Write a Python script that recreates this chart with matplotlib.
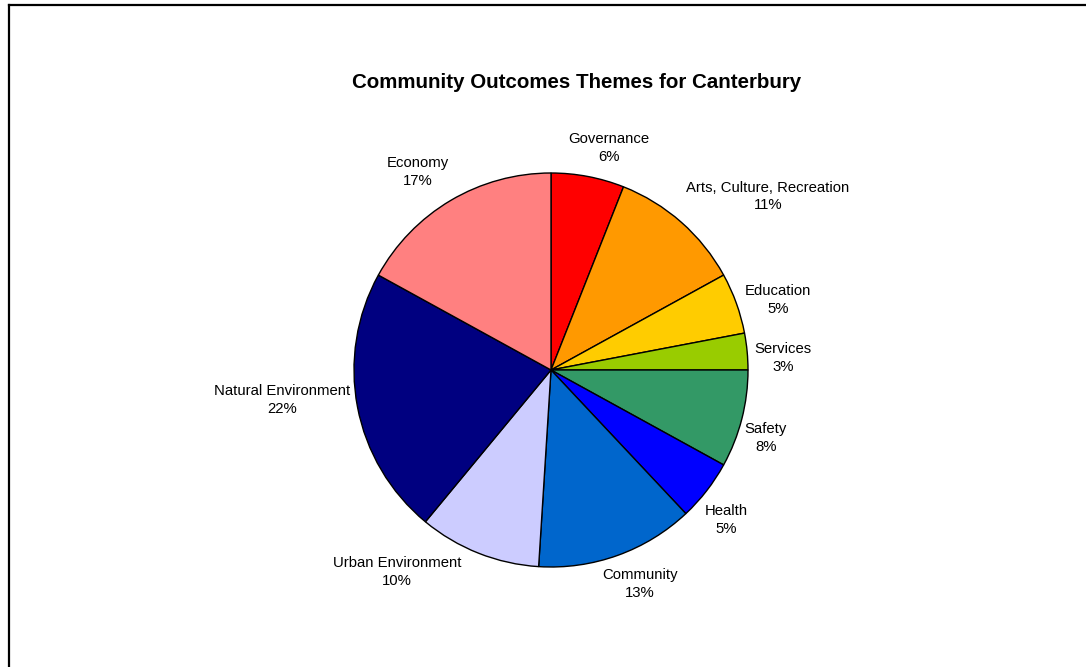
import numpy as np
import matplotlib
matplotlib.use("Agg")
import matplotlib.pyplot as plt
from matplotlib.lines import Line2D

plt.rcParams["font.family"] = ["Liberation Sans", "DejaVu Sans"]

themes = ["Governance", "Arts, Culture, Recreation", "Education", "Services",
          "Safety", "Health", "Community", "Urban Environment",
          "Natural Environment", "Economy"]
shares = [6, 11, 5, 3, 8, 5, 13, 10, 22, 17]
colors = ["#FF0000", "#FF9900", "#FFCC00", "#99CC00", "#339966",
          "#0000FF", "#0066CC", "#CCCCFF", "#000080", "#FF8080"]

W, H = 1086, 667
cx, cy, R = 551, 370, 197      # pie centre and radius in pixels
span = 1.8                     # axes half-width in data units

fig = plt.figure(figsize=(W / 100, H / 100), dpi=100)
side = 2 * R * span
ax = fig.add_axes([(cx - side / 2) / W, (H - cy - side / 2) / H, side / W, side / H])

wedges, _ = ax.pie(shares, colors=colors, startangle=90, counterclock=False,
                   radius=1.0, wedgeprops=dict(edgecolor="black", linewidth=1.0))
ax.set_xlim(-span, span)
ax.set_ylim(-span, span)
ax.set_aspect("equal")
ax.axis("off")

# label placement: radial distance and angular nudge (degrees) per slice
label_dist = [1.165, 1.41, 1.205, 1.18, 1.145, 1.17, 1.177, 1.29, 1.375, 1.21]
label_turn = [-3.8, -10.0, -2.7, -2.4, -3.2, -2.8, 2.8, -15.7, -4.4, 3.3]
total = sum(shares)
for w, name, val, d, t in zip(wedges, themes, shares, label_dist, label_turn):
    mid = np.deg2rad((w.theta1 + w.theta2) / 2 + t)
    ax.text(d * np.cos(mid), d * np.sin(mid), f"{name}\n{val / total:.0%}",
            ha="center", va="center", fontsize=10.7, linespacing=1.32)

fig.text(577 / W, 1 - 82 / H, "Community Outcomes Themes for Canterbury",
         ha="center", va="center", fontsize=14.8, fontweight="bold")

# outer chart frame (only top and left edges fall inside the image)
fig.add_artist(Line2D([8.5 / W, 1.01], [1 - 4.5 / H, 1 - 4.5 / H],
                      transform=fig.transFigure, color="black", lw=1.6))
fig.add_artist(Line2D([8.5 / W, 8.5 / W], [-0.01, 1 - 4.5 / H],
                      transform=fig.transFigure, color="black", lw=1.6))

fig.savefig("out.png", dpi=100)
